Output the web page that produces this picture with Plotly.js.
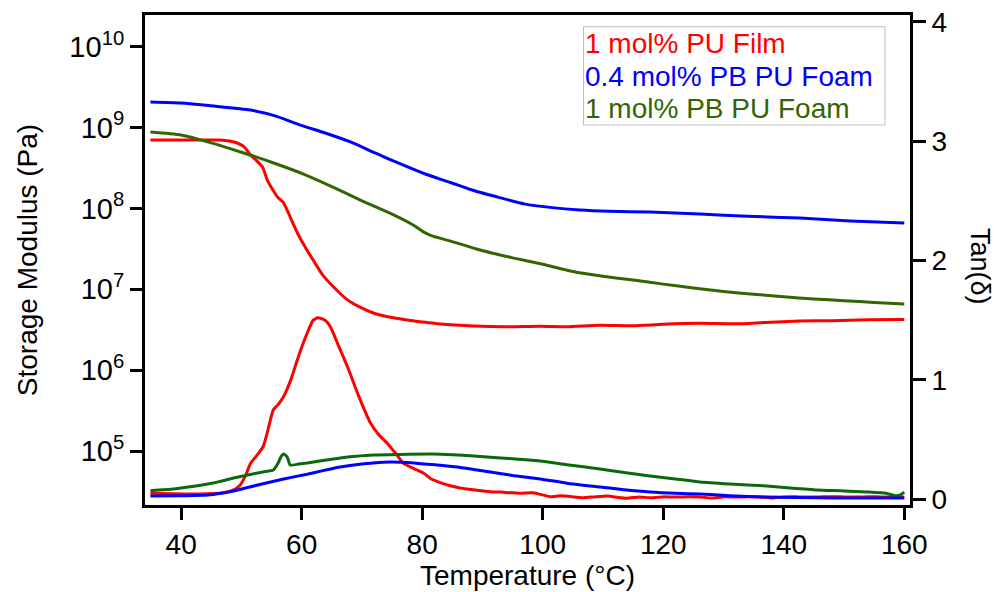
<!DOCTYPE html>
<html>
<head>
<meta charset="utf-8">
<script src="https://cdn.plot.ly/plotly-3.0.1.min.js"></script>
<style>html,body{margin:0;padding:0;background:#fff;}#chart{width:994px;height:592px;}</style>
</head>
<body>
<div id="chart"></div>
<script>
// ---- Storage modulus (Pa), left log axis ----
const filmModT = [34.9, 40, 43.2, 46.5, 48, 49.3, 50.5, 51.5, 52.5, 53.5, 54.3, 55.2, 56.0, 57.0, 58.2, 59.3, 60.6, 61.9, 63.5, 65.3, 67.6, 69.5, 71.9, 74.5, 77.5, 80, 83.0, 88.5, 94, 99.6, 104, 109.5, 115, 120, 126.1, 132, 137, 142.7, 148, 154, 160];
const filmModE = [7.0e8, 7.0e8, 7.0e8, 7.0e8, 6.8e8, 6.43e8, 5.7e8, 4.57e8, 3.9e8, 3.25e8, 2.24e8, 1.7e8, 1.38e8, 1.17e8, 7.5e7, 4.97e7, 3.3e7, 2.30e7, 1.5e7, 1.07e7, 7.4e6, 6.1e6, 5.1e6, 4.55e6, 4.18e6, 3.95e6, 3.72e6, 3.52e6, 3.45e6, 3.5e6, 3.45e6, 3.6e6, 3.55e6, 3.7e6, 3.8e6, 3.75e6, 3.9e6, 4.05e6, 4.1e6, 4.2e6, 4.25e6];

const pb04ModT = [34.9, 40, 45, 51.5, 55.6, 59.8, 63.9, 68.1, 72.2, 76.4, 80.5, 84.7, 88.8, 93.0, 97.1, 101.2, 106.2, 111, 117.8, 126.1, 134, 142.7, 151, 160];
const pb04ModE = [2.07e9, 2.01e9, 1.85e9, 1.64e9, 1.39e9, 1.07e9, 8.55e8, 6.62e8, 4.84e8, 3.54e8, 2.66e8, 2.09e8, 1.64e8, 1.35e8, 1.13e8, 1.03e8, 9.55e7, 9.2e7, 9.0e7, 8.5e7, 8.0e7, 7.6e7, 7.0e7, 6.6e7];

const pb1ModT = [34.9, 40, 45, 50, 55, 60, 65, 70, 75, 78.5, 80.2, 81.5, 85, 89.6, 95, 100, 105, 110, 115, 120, 125, 130, 135, 140, 145, 150, 155, 160];
const pb1ModE = [8.8e8, 8.07e8, 6.46e8, 4.95e8, 3.72e8, 2.71e8, 1.86e8, 1.24e8, 8.5e7, 6.24e7, 5.13e7, 4.62e7, 3.89e7, 3.06e7, 2.45e7, 2.04e7, 1.66e7, 1.45e7, 1.30e7, 1.16e7, 1.04e7, 9.4e6, 8.7e6, 8.1e6, 7.6e6, 7.25e6, 6.9e6, 6.6e6];

// ---- Tan(delta), right axis ----
const filmTanT = [34.9, 43.2, 47, 48.7, 49.8, 50.7, 51.5, 52.6, 53.6, 54.3, 55.3, 56.2, 57.0, 58.2, 59.3, 60.2, 60.9, 61.5, 61.9, 62.7, 63.4, 64.1, 64.8, 66, 67.6, 69.5, 71.4, 72.8, 74.2, 75.5, 76.9, 78.5, 80.2, 81.5, 83.0, 84.5, 86.3, 88.5, 91.3, 93, 96.3, 98.4, 101.2, 103, 106.7, 108.5, 110.7, 112.5, 114.0, 116, 118, 120, 122, 124, 126, 128, 130, 132, 134, 136, 138, 140, 142, 144, 146, 148, 150, 152, 154, 156, 158, 160];
const filmTanD = [0.05, 0.044, 0.055, 0.078, 0.12, 0.2, 0.30, 0.37, 0.44, 0.56, 0.75, 0.8, 0.86, 1.0, 1.17, 1.3, 1.39, 1.46, 1.50, 1.52, 1.51, 1.49, 1.44, 1.3, 1.11, 0.86, 0.64, 0.54, 0.47, 0.39, 0.30, 0.26, 0.22, 0.17, 0.14, 0.115, 0.095, 0.08, 0.064, 0.06, 0.05, 0.055, 0.022, 0.03, 0.013, 0.02, 0.028, 0.015, 0.008, 0.02, 0.012, 0.02, 0.018, 0.022, 0.02, 0.01, 0.02, 0.018, 0.022, 0.02, 0.01, 0.02, 0.022, 0.018, 0.02, 0.022, 0.02, 0.018, 0.022, 0.02, 0.018, 0.02];

const pb04TanT = [34.9, 40, 44.4, 48.7, 52.7, 57.0, 60.9, 63.5, 66.4, 69, 71.9, 74.7, 77.5, 80.2, 83, 85.8, 88.5, 91.3, 95, 99.6, 104, 109.5, 113.5, 117.8, 122, 126.1, 131, 137.2, 142, 148.2, 154, 160];
const pb04TanD = [0.028, 0.03, 0.036, 0.07, 0.12, 0.17, 0.21, 0.24, 0.27, 0.29, 0.304, 0.312, 0.308, 0.296, 0.285, 0.27, 0.25, 0.229, 0.2, 0.17, 0.135, 0.103, 0.08, 0.061, 0.05, 0.044, 0.03, 0.019, 0.014, 0.011, 0.011, 0.011];

const pb1TanT = [34.9, 38.7, 41.5, 44.4, 46.5, 48.7, 50.7, 52.7, 54, 55.3, 56.1, 56.6, 57.0, 57.6, 58.1, 59.5, 60.9, 63.5, 66.4, 69, 71.9, 76, 81.9, 85, 88.5, 93.0, 96, 99.6, 104, 109.5, 113.5, 117.8, 122, 126.1, 131, 137.2, 141, 145.5, 150, 153.8, 157, 158.5, 159.3, 160];
const pb1TanD = [0.072, 0.086, 0.105, 0.128, 0.15, 0.178, 0.2, 0.22, 0.233, 0.245, 0.304, 0.36, 0.38, 0.354, 0.287, 0.295, 0.304, 0.325, 0.346, 0.36, 0.371, 0.376, 0.379, 0.373, 0.363, 0.346, 0.335, 0.321, 0.29, 0.254, 0.224, 0.195, 0.17, 0.145, 0.128, 0.111, 0.095, 0.078, 0.07, 0.061, 0.05, 0.03, 0.036, 0.06];

const legendLabels = ['1 mol% PU Film', '0.4 mol% PB PU Foam', '1 mol% PB PU Foam'];
const xTicks = [40, 60, 80, 100, 120, 140, 160];
const yTickVals = [1e5, 1e6, 1e7, 1e8, 1e9, 1e10];
const yTickText = ['10<sup>5</sup>', '10<sup>6</sup>', '10<sup>7</sup>', '10<sup>8</sup>', '10<sup>9</sup>', '10<sup>10</sup>'];
const y2Ticks = [0, 1, 2, 3, 4];

const RED = '#ff0000', BLUE = '#0000ff', OLIVE = '#336600', GREEN = '#0a6a0a';
const FONT = 'Liberation Sans, Arial, sans-serif';

const traces = [
  {x: filmModT, y: filmModE, name: legendLabels[0], mode: 'lines', line: {color: RED, width: 3, shape: 'spline', smoothing: 0.6}, yaxis: 'y'},
  {x: pb1ModT, y: pb1ModE, name: legendLabels[2], mode: 'lines', line: {color: OLIVE, width: 3, shape: 'spline', smoothing: 0.6}, yaxis: 'y'},
  {x: pb04ModT, y: pb04ModE, name: legendLabels[1], mode: 'lines', line: {color: BLUE, width: 3, shape: 'spline', smoothing: 0.6}, yaxis: 'y'},
  {x: filmTanT, y: filmTanD, name: legendLabels[0], mode: 'lines', line: {color: RED, width: 3, shape: 'spline', smoothing: 0.5}, yaxis: 'y2'},
  {x: pb1TanT, y: pb1TanD, name: legendLabels[2], mode: 'lines', line: {color: GREEN, width: 3, shape: 'spline', smoothing: 0.5}, yaxis: 'y2'},
  {x: pb04TanT, y: pb04TanD, name: legendLabels[1], mode: 'lines', line: {color: BLUE, width: 3, shape: 'spline', smoothing: 0.6}, yaxis: 'y2'}
];

const axisCommon = {
  showline: true, linewidth: 3, linecolor: '#000', ticks: 'outside', ticklen: 12, tickwidth: 3, tickcolor: '#000',
  showgrid: false, zeroline: false, tickfont: {family: FONT, size: 28, color: '#000'}
};

const layout = {
  width: 994, height: 592,
  margin: {l: 145, r: 84, t: 15, b: 87, pad: 0},
  paper_bgcolor: '#fff', plot_bgcolor: '#fff',
  showlegend: false,
  font: {family: FONT, color: '#000'},
  xaxis: Object.assign({}, axisCommon, {
    range: [34, 160.95], tickmode: 'array', tickvals: xTicks, mirror: true,
    title: {text: 'Temperature (°C)', font: {family: FONT, size: 28, color: '#000'}, standoff: 6}
  }),
  yaxis: Object.assign({}, axisCommon, {
    type: 'log', range: [4.335, 10.39], tickmode: 'array', tickvals: yTickVals, ticktext: yTickText,
    tickfont: {family: FONT, size: 29, color: '#000'},
    title: {text: 'Storage Modulus (Pa)', font: {family: FONT, size: 28, color: '#000'}, standoff: 24}
  }),
  yaxis2: Object.assign({}, axisCommon, {
    overlaying: 'y', side: 'right', range: [-0.048, 4.056], tickmode: 'array', tickvals: y2Ticks, ticklen: 13
  }),
  shapes: [
    {type: 'rect', xref: 'paper', yref: 'paper', x0: 0.5732, x1: 0.9673, y0: 0.7755, y1: 0.9761,
     line: {color: '#c0c0c0', width: 1}, fillcolor: 'rgba(0,0,0,0)'}
  ],
  annotations: [
    {xref: 'paper', yref: 'paper', x: 0.573, y: 0.941, xanchor: 'left', yanchor: 'middle', showarrow: false,
     text: legendLabels[0], font: {family: FONT, size: 28, color: RED}},
    {xref: 'paper', yref: 'paper', x: 0.573, y: 0.8755, xanchor: 'left', yanchor: 'middle', showarrow: false,
     text: legendLabels[1], font: {family: FONT, size: 28, color: BLUE}},
    {xref: 'paper', yref: 'paper', x: 0.573, y: 0.810, xanchor: 'left', yanchor: 'middle', showarrow: false,
     text: legendLabels[2], font: {family: FONT, size: 28, color: OLIVE}},
    {xref: 'paper', yref: 'paper', x: 1.0, xshift: 70, y: 0.488, yanchor: 'middle', xanchor: 'center', showarrow: false,
     textangle: 90, text: 'Tan(δ)', font: {family: FONT, size: 27, color: '#000'}}
  ]
};

Plotly.newPlot('chart', traces, layout, {displayModeBar: false, staticPlot: true});
</script>
</body>
</html>
